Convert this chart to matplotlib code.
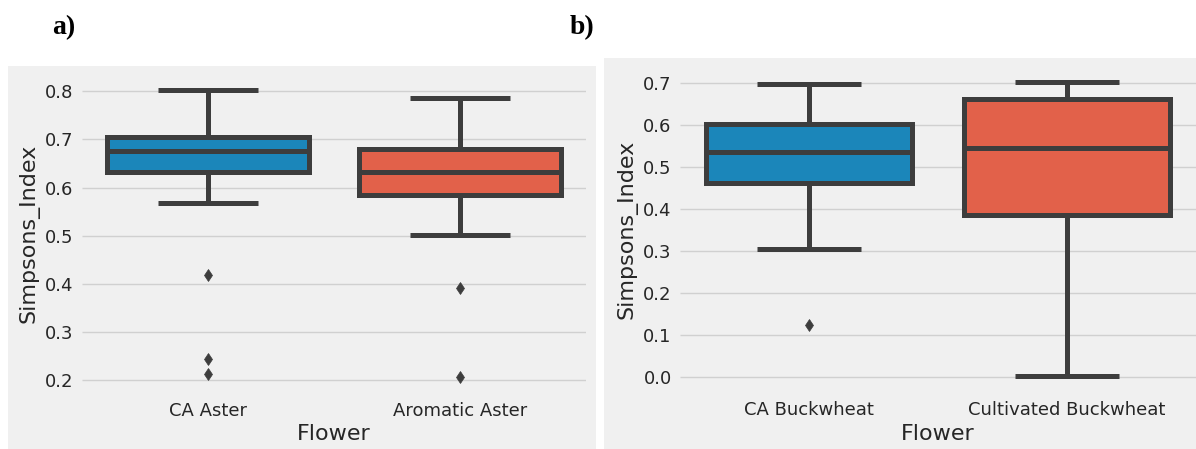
import matplotlib
matplotlib.use("Agg")
import matplotlib.pyplot as plt
from matplotlib.patches import Rectangle

plt.style.use("fivethirtyeight")

# panel a) Aster
aster_names = ["CA Aster", "Aromatic Aster"]
aster_whislo = [0.568, 0.501]
aster_q1 = [0.633, 0.585]
aster_med = [0.676, 0.633]
aster_q3 = [0.705, 0.680]
aster_whishi = [0.802, 0.787]
aster_fliers = [[0.418, 0.244, 0.212], [0.391, 0.206]]

# panel b) Buckwheat
buck_names = ["CA Buckwheat", "Cultivated Buckwheat"]
buck_whislo = [0.305, 0.002]
buck_q1 = [0.463, 0.386]
buck_med = [0.536, 0.546]
buck_q3 = [0.602, 0.663]
buck_whishi = [0.698, 0.702]
buck_fliers = [[0.124], []]

box_colors = ["#1b86ba", "#e2614a"]
line_col = "#3d3d3d"
panel_bg = "#f0f0f0"

W, H = 1196, 449
fig = plt.figure(figsize=(W / 100, H / 100), dpi=100, facecolor="white")

# grey panel backgrounds (two separate figure images in the original)
fig.patches.append(Rectangle((8 / W, 0), 588 / W, 383 / H, transform=fig.transFigure,
                             facecolor=panel_bg, edgecolor="none", zorder=-1))
fig.patches.append(Rectangle((604 / W, 0), 592 / W, 391 / H, transform=fig.transFigure,
                             facecolor=panel_bg, edgecolor="none", zorder=-1))


def draw_panel(ax, names, whislo, q1, med, q3, whishi, fliers, ylim, yticks):
    stats = []
    for i in range(len(names)):
        stats.append(dict(whislo=whislo[i], q1=q1[i], med=med[i], q3=q3[i],
                          whishi=whishi[i], fliers=fliers[i]))
    lw = 3.6
    bp = ax.bxp(stats, positions=range(len(names)), widths=0.8, patch_artist=True,
                boxprops=dict(edgecolor=line_col, linewidth=lw),
                medianprops=dict(color=line_col, linewidth=lw),
                whiskerprops=dict(color=line_col, linewidth=lw, solid_capstyle="butt"),
                capprops=dict(color=line_col, linewidth=lw, solid_capstyle="butt"),
                flierprops=dict(marker="d", markerfacecolor=line_col, markeredgecolor=line_col,
                                markersize=6.5, markeredgewidth=0.5),
                capwidths=0.4, zorder=3)
    for patch, c in zip(bp["boxes"], box_colors):
        patch.set_facecolor(c)
    ax.set_facecolor(panel_bg)
    ax.set_xlim(-0.5, len(names) - 0.5)
    ax.set_ylim(*ylim)
    ax.set_yticks(yticks)
    ax.set_yticklabels([f"{t:.1f}" for t in yticks])
    ax.set_xticks(range(len(names)))
    ax.set_xticklabels(names)
    ax.grid(axis="x", visible=False)
    ax.grid(axis="y", color="#d0d0d0", linewidth=1.0, zorder=0)
    ax.set_axisbelow(True)
    for s in ax.spines.values():
        s.set_visible(False)
    ax.tick_params(axis="both", length=0, labelsize=13, colors="#262626")
    ax.tick_params(axis="y", pad=6)
    ax.tick_params(axis="x", pad=7)
    ax.set_xlabel("Flower", fontsize=16, color="#262626", labelpad=3)
    ax.set_ylabel("Simpsons_Index", fontsize=16, color="#262626", labelpad=4)


ax1 = fig.add_axes([82 / W, (H - 392) / H, 504 / W, (392 - 74.6) / H])
draw_panel(ax1, aster_names, aster_whislo, aster_q1, aster_med, aster_q3, aster_whishi,
           aster_fliers, (0.1755, 0.8347), [0.2, 0.3, 0.4, 0.5, 0.6, 0.7, 0.8])

ax2 = fig.add_axes([680 / W, (H - 391.7) / H, 516 / W, (391.7 - 67.5) / H])
draw_panel(ax2, buck_names, buck_whislo, buck_q1, buck_med, buck_q3, buck_whishi,
           buck_fliers, (-0.0351, 0.7371), [0.0, 0.1, 0.2, 0.3, 0.4, 0.5, 0.6, 0.7])

fig.text(64 / W, 1 - 28 / H, "a)", fontsize=20, fontweight="bold",
         family="Liberation Serif", ha="center", va="center", color="black")
fig.text(582 / W, 1 - 28 / H, "b)", fontsize=20, fontweight="bold",
         family="Liberation Serif", ha="center", va="center", color="black")

fig.savefig("out.png", dpi=100, facecolor="white")
